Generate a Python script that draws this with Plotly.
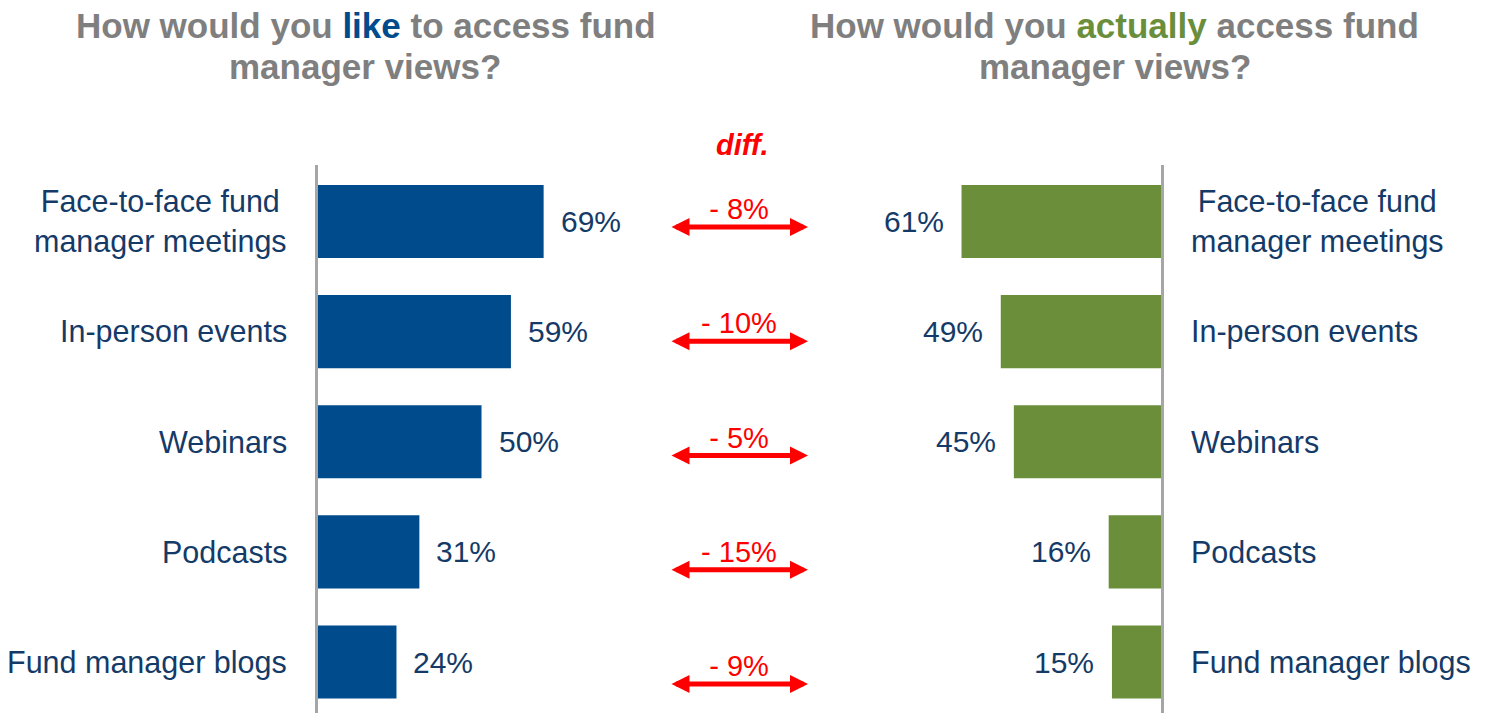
import plotly.graph_objects as go

categories = ["Face-to-face fund<br>manager meetings", "In-person events", "Webinars",
              "Podcasts", "Fund manager blogs"]
like_values = [69, 59, 50, 31, 24]
actual_values = [61, 49, 45, 16, 15]

W, H = 1490, 713
BLUE = "#004B8C"
GREEN = "#6A8E39"
NAVY = "#143A68"
GRAY = "#7F7F7F"
RED = "#FF0000"
FONT = "Arial, Liberation Sans, sans-serif"

def px(x):
    return x / W

def py(y):
    return 1 - y / H

diffs = [a - l for l, a in zip(like_values, actual_values)]
diff_labels = [f"{'-' if d < 0 else '+'} {abs(d)}%" for d in diffs]

fig = go.Figure()
fig.add_trace(go.Bar(y=categories, x=like_values, orientation="h", width=0.663,
                     marker=dict(color=BLUE, line=dict(width=0)),
                     xaxis="x", yaxis="y", hoverinfo="skip"))
fig.add_trace(go.Bar(y=categories, x=actual_values, orientation="h", width=0.663,
                     marker=dict(color=GREEN, line=dict(width=0)),
                     xaxis="x2", yaxis="y2", hoverinfo="skip"))
# diff labels in the middle column
fig.add_trace(go.Scatter(y=categories, x=[0.5] * len(categories), mode="text",
                         text=diff_labels, textposition="middle center",
                         textfont=dict(family=FONT, size=29, color=RED),
                         xaxis="x3", yaxis="y3", hoverinfo="skip"))

scale = 3.27
yrange = [4.463, -0.513]
ydom = [0, py(165)]

annotations = []
for cat, lv, av in zip(categories, like_values, actual_values):
    annotations.append(dict(x=lv, y=cat, xref="x", yref="y", text=f"{lv}%", showarrow=False,
                            xanchor="left", xshift=15, font=dict(family=FONT, size=30, color=NAVY)))
    annotations.append(dict(x=av, y=cat, xref="x2", yref="y2", text=f"{av}%", showarrow=False,
                            xanchor="right", xshift=-16, font=dict(family=FONT, size=30, color=NAVY)))
    annotations.append(dict(x=px(289), y=cat, xref="paper", yref="y", text=cat, showarrow=False,
                            xanchor="right", align="center", font=dict(family=FONT, size=30.5, color=NAVY)))
    annotations.append(dict(x=px(1189), y=cat, xref="paper", yref="y", text=cat, showarrow=False,
                            xanchor="left", align="center", font=dict(family=FONT, size=30.5, color=NAVY)))
    annotations.append(dict(x=px(808), y=cat, xref="paper", yref="y3", text="", showarrow=True,
                            ax=-138, ay=0, axref="pixel", ayref="pixel", yshift=-15,
                            arrowhead=2, startarrowhead=2, arrowside="end+start",
                            arrowwidth=5, arrowsize=0.72, startarrowsize=0.72, arrowcolor=RED))

annotations.append(dict(x=px(742), y=py(145), xref="paper", yref="paper",
                        text="<b><i>diff.</i></b>", showarrow=False, xanchor="center", yanchor="middle",
                        font=dict(family=FONT, size=29, color=RED)))

title_font = dict(family=FONT, size=35, color=GRAY)
annotations += [
    dict(x=px(366), y=py(25), xref="paper", yref="paper", showarrow=False,
         text=f"<b>How would you <span style='color:{BLUE}'>like</span> to access fund</b>",
         xanchor="center", yanchor="middle", font=title_font),
    dict(x=px(365), y=py(67), xref="paper", yref="paper", showarrow=False,
         text="<b>manager views?</b>", xanchor="center", yanchor="middle", font=title_font),
    dict(x=px(1114), y=py(25), xref="paper", yref="paper", showarrow=False,
         text=f"<b>How would you <span style='color:{GREEN}'>actually</span> access fund</b>",
         xanchor="center", yanchor="middle", font=title_font),
    dict(x=px(1115), y=py(67), xref="paper", yref="paper", showarrow=False,
         text="<b>manager views?</b>", xanchor="center", yanchor="middle", font=title_font),
]

axis_common = dict(showgrid=False, zeroline=False, showticklabels=False, ticks="", fixedrange=True)
fig.update_layout(
    width=W, height=H,
    margin=dict(l=0, r=0, t=0, b=0),
    paper_bgcolor="white", plot_bgcolor="rgba(0,0,0,0)",
    showlegend=False,
    xaxis=dict(domain=[px(318), px(650)], range=[0, 332 / scale], anchor="y", **axis_common),
    yaxis=dict(domain=ydom, range=yrange, anchor="x", showline=True, linecolor="#A6A6A6",
               linewidth=2.5, **axis_common),
    xaxis2=dict(domain=[px(830), px(1161)], range=[331 / scale, 0], anchor="y2", **axis_common),
    yaxis2=dict(domain=ydom, range=yrange, anchor="x2", side="right", showline=True,
                linecolor="#A6A6A6", linewidth=2.5, **axis_common),
    xaxis3=dict(domain=[px(660), px(818)], range=[0, 1], anchor="y3", visible=False, **axis_common),
    yaxis3=dict(domain=ydom, range=[4.385, -0.411], anchor="x3", visible=False, **axis_common),
    annotations=annotations,
)

fig.write_html("out.html")
